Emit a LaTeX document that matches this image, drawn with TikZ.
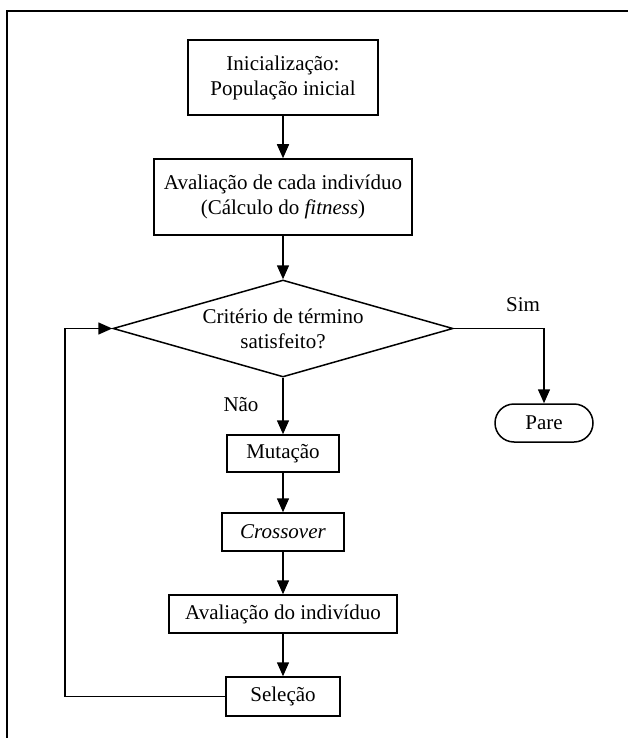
\documentclass[tikz,border=0pt]{standalone}
\usepackage{fontspec}
\setmainfont{Liberation Serif}
\usetikzlibrary{shapes.geometric,arrows.meta}
\tikzset{
  caixa/.style={draw,line width=1.5pt,inner sep=0pt,align=center},
  seta/.style={line width=1.5pt,-{Triangle[length=14pt,width=12pt]}},
  linha/.style={line width=1.5pt}
}
\begin{document}
\begin{tikzpicture}[x=1pt,y=-1pt,font=\fontsize{21}{25}\selectfont]
        \useasboundingbox (0,0) rectangle (628,738);
        \draw[linha] (7,738) -- (7,11) -- (628,11);
        \node[caixa,minimum width=190pt,minimum height=75pt] (ini) at (283,77.5) {Inicialização:\\População inicial};
        \node[caixa,minimum width=258pt,minimum height=76pt] (aval) at (283,197) {Avaliação de cada indivíduo\\(Cálculo do \textit{fitness})};
        \node[caixa,diamond,aspect=4,minimum width=340pt,minimum height=97pt] (crit) at (283,328.5) {Critério de término\\satisfeito?};
        \node[caixa,rounded corners=19pt,minimum width=98pt,minimum height=38pt] (pare) at (544,423) {Pare};
        \node[caixa,minimum width=112pt,minimum height=37pt] (mut) at (283,453.5) {Mutação};
        \node[caixa,minimum width=122pt,minimum height=38pt] (cross) at (283,532) {\textit{Crossover}};
        \node[caixa,minimum width=228pt,minimum height=38pt] (avind) at (283,614) {Avaliação do indivíduo};
        \node[caixa,minimum width=114pt,minimum height=39pt] (sel) at (283,696.5) {Seleção};
        \node (sim) at (523,305) {Sim};
        \node (nao) at (241,405) {Não};
        \draw[seta] (ini) -- (aval);
        \draw[seta] (aval) -- (crit.north);
        \draw[seta] (crit.east) -- (544,328.5) -- (pare.north);
        \draw[seta] (crit.south) -- (mut);
        \draw[seta] (mut) -- (cross);
        \draw[seta] (cross) -- (avind);
        \draw[seta] (avind) -- (sel);
        \draw[seta] (sel.west) -- (65,696.5) -- (65,328.5) -- (crit.west);
    \end{tikzpicture}
\end{document}
